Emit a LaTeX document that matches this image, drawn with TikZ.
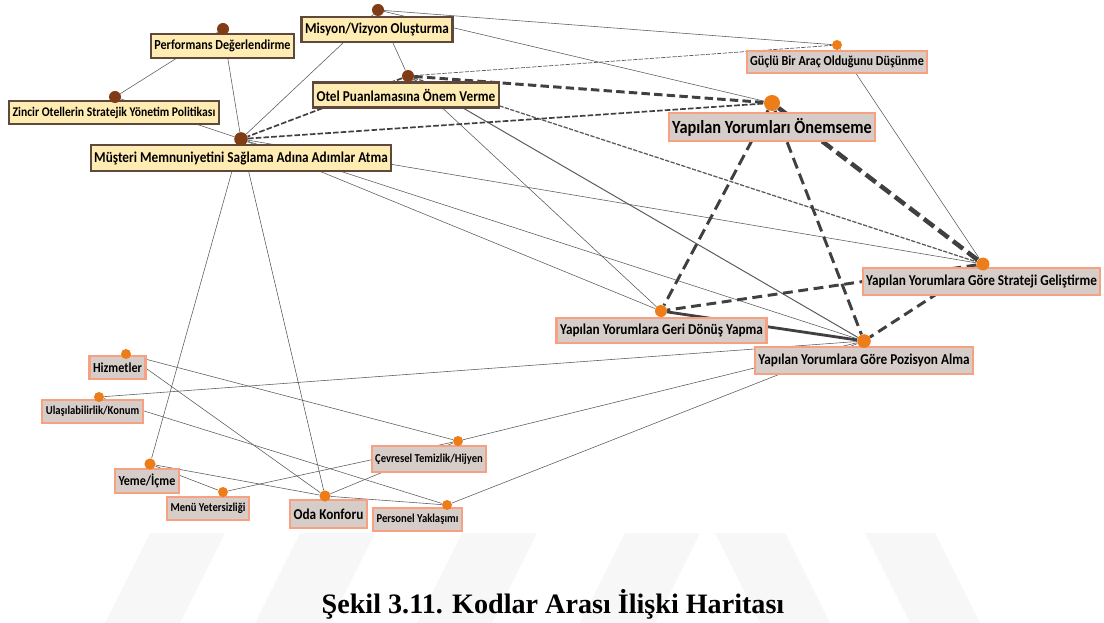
\documentclass[tikz,border=0pt]{standalone}
\usepackage{fontspec}
\setmainfont{Carlito}[FakeStretch=0.88]
\newfontfamily\capfont{Liberation Serif}
\usetikzlibrary{backgrounds}

\definecolor{krem}{RGB}{255,236,179}
\definecolor{kahvecerceve}{RGB}{95,72,60}
\definecolor{kahve}{RGB}{128,60,20}
\definecolor{turuncu}{RGB}{236,125,25}
\definecolor{bej}{RGB}{214,204,200}
\definecolor{somon}{RGB}{247,160,130}
\definecolor{cizgi}{RGB}{90,90,90}
\definecolor{koyu}{RGB}{64,64,64}

\tikzset{
  kahvekod/.style={draw=kahvecerceve, line width=1.7pt, fill=krem, inner xsep=2.5pt, inner ysep=0pt, minimum height=0.62cm},
  turuncukod/.style={draw=somon, line width=1.5pt, fill=bej, inner xsep=2.5pt, inner ysep=0pt, minimum height=0.6cm},
  kahvenokta/.style={circle, fill=kahve, inner sep=0pt, minimum size=0.3cm},
  turuncunokta/.style={circle, fill=turuncu, inner sep=0pt, minimum size=#1},
  turuncunokta/.default=0.25cm,
  yaziA/.style={font=\fontsize{13.2}{15}\selectfont\bfseries},
  yaziB/.style={font=\fontsize{10.7}{12}\selectfont\bfseries},
  yaziC/.style={font=\fontsize{9.8}{11}\selectfont\bfseries},
  yaziD/.style={font=\fontsize{8.6}{10}\selectfont\bfseries},
  ince/.style={draw=cizgi, line width=0.4pt},
  kesik/.style={draw=cizgi, line width=0.7pt, dash pattern=on 3pt off 1pt},
  orta/.style={draw=koyu, line width=1.2pt, dash pattern=on 4pt off 1.5pt},
  kalin/.style={draw=koyu, line width=2.1pt, dash pattern=on 8pt off 4pt},
  enkalin/.style={draw=koyu, line width=3.2pt, dash pattern=on 9pt off 4pt},
  filigran/.style={fill=black!3, draw=none}
}

\begin{document}
\begin{tikzpicture}[x=0.025cm, y=-0.025cm]
  \useasboundingbox (0,0) rectangle (1104,623);

  % kategori kodlari (kahverengi)
  \node[kahvekod, yaziB, minimum height=0.63cm] (b-mis) at (377,29.5) {Misyon/Vizyon Oluşturma};
  \node[kahvekod, yaziC, minimum height=0.6cm] (b-perf) at (222.5,46) {Performans Değerlendirme};
  \node[kahvekod, yaziD, font=\fontsize{9.4}{10}\selectfont\bfseries, minimum height=0.58cm] (b-zinc) at (114,112.5) {Zincir Otellerin Stratejik Yönetim Politikası};
  \node[kahvekod, yaziB, minimum height=0.62cm] (b-otel) at (406,95) {Otel Puanlamasına Önem Verme};
  \node[kahvekod, yaziB, minimum height=0.65cm] (b-must) at (241,158) {Müşteri Memnuniyetini Sağlama Adına Adımlar Atma};

  % turuncu kodlar
  \node[turuncukod, yaziC, minimum height=0.55cm] (b-guclu) at (837,62) {Güçlü Bir Araç Olduğunu Düşünme};
  \node[turuncukod, yaziA, minimum height=0.7cm] (b-onem) at (772,127) {Yapılan Yorumları Önemseme};
  \node[turuncukod, yaziB, minimum height=0.68cm] (b-strat) at (981.5,281.5) {Yapılan Yorumlara Göre Strateji Geliştirme};
  \node[turuncukod, yaziB, minimum height=0.63cm] (b-geri) at (661.5,330.5) {Yapılan Yorumlara Geri Dönüş Yapma};
  \node[turuncukod, yaziB, minimum height=0.68cm] (b-poz) at (864,360.5) {Yapılan Yorumlara Göre Pozisyon Alma};
  \node[turuncukod, yaziC, minimum height=0.58cm] (b-hizm) at (117.5,367.5) {Hizmetler};
  \node[turuncukod, yaziD, minimum height=0.58cm] (b-ulas) at (92.5,411.5) {Ulaşılabilirlik/Konum};
  \node[turuncukod, yaziC, minimum height=0.6cm] (b-yeme) at (147,481) {Yeme/İçme};
  \node[turuncukod, yaziD, minimum height=0.58cm] (b-menu) at (208,508.5) {Menü Yetersizliği};
  \node[turuncukod, yaziB, minimum height=0.7cm] (b-oda) at (328.5,514) {Oda Konforu};
  \node[turuncukod, yaziD, minimum height=0.65cm] (b-cevre) at (429,459) {Çevresel Temizlik/Hijyen};
  \node[turuncukod, yaziD, minimum height=0.58cm] (b-pers) at (417.5,519.5) {Personel Yaklaşımı};

  % noktalar
  \node[kahvenokta] (mis) at (378,10) {};
  \node[kahvenokta] (perf) at (223,29) {};
  \node[kahvenokta] (zinc) at (115,97) {};
  \node[kahvenokta] (otel) at (408,76) {};
  \node[kahvenokta, minimum size=0.34cm] (must) at (241,139) {};
  \node[turuncunokta] (guclu) at (837,45) {};
  \node[turuncunokta=0.4cm] (onem) at (772,103) {};
  \node[turuncunokta=0.32cm] (strat) at (983,264) {};
  \node[turuncunokta=0.3cm] (geri) at (661,311) {};
  \node[turuncunokta=0.34cm] (poz) at (864,341) {};
  \node[turuncunokta] (hizm) at (126,354) {};
  \node[turuncunokta] (ulas) at (99,397) {};
  \node[turuncunokta=0.28cm] (yeme) at (150,464) {};
  \node[turuncunokta] (menu) at (223,492) {};
  \node[turuncunokta=0.28cm] (oda) at (325,496) {};
  \node[turuncunokta] (cevre) at (458,441) {};
  \node[turuncunokta] (pers) at (447,505) {};

  \node[font=\capfont\bfseries\fontsize{20}{24}\selectfont] (baslik) at (553,604) {Şekil 3.11. Kodlar Arası İlişki Haritası};

  \begin{pgfonlayer}{background}
    % filigran
    \foreach \t in {150,300,462,625}
      \fill[filigran] (\t,533) -- (\t+75,533) -- (\t+30,623) -- (\t-45,623) -- cycle;
    \foreach \t in {715,865}
      \fill[filigran] (\t,533) -- (\t+70,533) -- (\t+115,623) -- (\t+45,623) -- cycle;

    \foreach \a/\b in {mis/guclu, mis/onem, mis/otel, mis/must, perf/zinc, perf/must,
                       zinc/must, otel/geri, must/strat, must/geri, must/poz, must/yeme,
                       must/oda, guclu/strat, ulas/poz, cevre/poz, pers/poz, hizm/cevre,
                       hizm/oda, ulas/pers, yeme/menu, yeme/oda, menu/cevre, oda/cevre, oda/pers}
      \draw[ince] (\a) -- (\b);
    \draw[ince, line width=0.7pt] (otel) -- (poz);
    \draw[kesik, line width=0.5pt] (otel) -- (guclu);
    \draw[kesik, line width=0.9pt] (otel) -- (strat);
    \draw[orta] (otel) -- (must);
    \draw[orta] (must) -- (onem);
    \draw[kalin, dash pattern=on 6pt off 3pt] (otel) -- (onem);
    \draw[kalin] (onem) -- (geri);
    \draw[kalin] (onem) -- (poz);
    \draw[kalin, dash pattern=on 7pt off 4pt] (strat) -- (geri);
    \draw[kalin, dash pattern=on 7pt off 4pt] (strat) -- (poz);
    \draw[enkalin] (onem) -- (strat);
    \draw[draw=koyu, line width=2pt] (geri) -- (poz);
  \end{pgfonlayer}
\end{tikzpicture}
\end{document}
